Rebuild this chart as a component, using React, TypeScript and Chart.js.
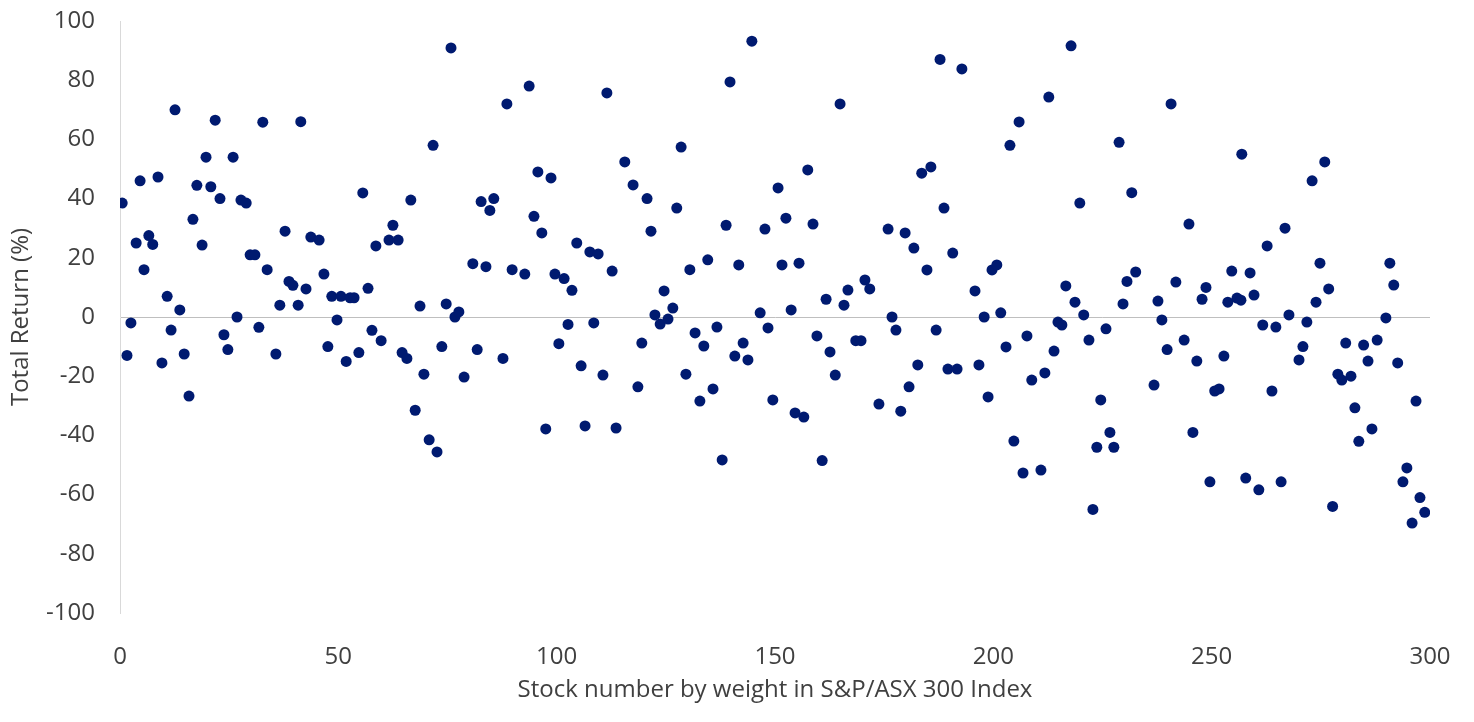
import React, { useEffect, useRef } from "react";
import { Chart, registerables } from "chart.js";
Chart.register(...registerables);

const stockNumbers = [
  0.5, 1.6, 2.5, 3.7, 4.6, 5.5, 6.6, 7.5, 8.7, 9.6, 10.8, 11.7, 12.6, 13.7, 14.7, 15.8, 16.7, 17.6, 18.8, 19.7,
  20.8, 21.8, 22.9, 23.8, 24.7, 25.9, 26.8, 27.7, 28.9, 29.8, 30.9, 31.8, 32.7, 33.7, 35.7, 36.6, 37.8, 38.7, 39.6, 40.8,
  41.4, 42.6, 43.7, 45.6, 46.7, 47.6, 48.5, 49.7, 50.6, 51.8, 52.7, 53.6, 54.7, 55.6, 56.8, 57.7, 58.6, 59.8, 61.6, 62.5,
  63.7, 64.6, 65.7, 66.6, 67.6, 68.7, 69.6, 70.8, 71.7, 72.6, 73.7, 74.7, 75.8, 76.7, 77.6, 78.8, 80.8, 81.8, 82.7, 83.8,
  84.7, 85.6, 87.7, 88.6, 89.8, 92.7, 93.7, 94.8, 95.7, 96.6, 97.5, 98.7, 99.6, 100.5, 101.7, 102.6, 103.5, 104.6, 105.6, 106.5,
  107.6, 108.5, 109.5, 110.6, 111.5, 112.7, 113.6, 115.6, 117.5, 118.6, 119.5, 120.7, 121.6, 122.5, 123.7, 124.6, 125.5, 126.6, 127.5, 128.5,
  129.6, 130.5, 131.7, 132.8, 133.7, 134.6, 135.8, 136.7, 137.9, 138.8, 139.7, 140.8, 141.7, 142.7, 143.8, 144.7, 146.6, 147.7, 148.4, 149.5,
  150.7, 151.6, 152.5, 153.7, 154.6, 155.5, 156.6, 157.5, 158.7, 159.6, 160.8, 161.7, 162.6, 163.8, 164.9, 165.8, 166.7, 168.5, 169.7, 170.6,
  171.7, 173.8, 175.9, 176.8, 177.7, 178.8, 179.8, 180.7, 181.8, 182.7, 183.6, 184.8, 185.7, 186.9, 187.8, 188.7, 189.6, 190.7, 191.7, 192.8,
  195.8, 196.7, 197.9, 198.8, 199.7, 200.8, 201.7, 202.9, 203.8, 204.7, 205.9, 206.8, 207.7, 208.8, 210.9, 211.8, 212.7, 213.9, 214.8, 215.7,
  216.6, 217.8, 218.7, 219.8, 220.7, 221.9, 222.8, 223.7, 224.6, 225.8, 226.7, 227.6, 228.8, 229.7, 230.6, 231.7, 232.6, 236.8, 237.7, 238.6,
  239.8, 240.7, 241.8, 243.7, 244.8, 245.7, 246.6, 247.8, 248.7, 249.6, 250.7, 251.7, 252.8, 253.7, 254.6, 255.8, 256.7, 256.9, 257.8, 258.8,
  259.7, 260.8, 261.7, 262.7, 263.8, 264.7, 265.9, 266.8, 267.7, 270.0, 270.9, 271.8, 273.0, 273.9, 274.8, 275.9, 276.8, 277.7, 278.9, 279.8,
  280.7, 281.9, 282.8, 283.7, 284.8, 285.8, 286.7, 287.9, 289.9, 290.8, 291.7, 292.6, 293.8, 294.7, 295.9, 296.8, 297.7, 298.8
];

const totalReturns = [
  38.5, -13, -2, 25, 46, 16, 27.5, 24.5, 47.3, -15.5, 7, -4.4, 70, 2.4, -12.5, -26.7, 33, 44.5, 24.3, 54,
  44, 66.5, 40, -6, -11, 54, 0, 39.5, 38.5, 21, 21, -3.5, 65.8, 16, -12.5, 4, 29, 12, 10.7, 4,
  66, 9.5, 27, 26, 14.5, -10, 7, -1, 7, -15, 6.5, 6.5, -12, 41.9, 9.7, -4.5, 24, -8, 26, 31,
  26, -12, -14, 39.5, -31.5, 3.7, -19.3, -41.5, 58, -45.6, -10, 4.4, 90.9, 0, 1.7, -20.3, 18, -11, 39, 17,
  36, 40, -14, 72, 16, 14.5, 78, 34, 49, 28.4, -37.8, 47, 14.5, -9, 13, -2.5, 9, 25, -16.5, -36.8,
  22, -2, 21.3, -19.6, 75.7, 15.5, -37.5, 52.4, 44.6, -23.6, -8.8, 40, 29, 0.7, -2.4, 8.8, -0.7, 3, 36.8, 57.4,
  -19.3, 16, -5.4, -28.4, -9.8, 19.3, -24.3, -3.4, -48.3, 31, 79.4, -13.2, 17.6, -8.8, -14.5, 93.2, 1.4, 29.7, -3.7, -28,
  43.6, 17.6, 33.4, 2.4, -32.4, 18.2, -33.8, 49.7, 31.4, -6.4, -48.5, 6, -11.8, -19.6, 72, 4, 9.1, -8, -8, 12.5,
  9.5, -29.4, 29.7, 0, -4.4, -31.8, 28.4, -23.6, 23.3, -16.2, 48.6, 15.9, 50.7, -4.4, 87, 36.8, -17.6, 21.6, -17.6, 83.8,
  8.8, -16.2, 0, -27, 15.9, 17.6, 1.4, -10.1, 58, -41.9, 65.9, -52.7, -6.4, -21.3, -51.7, -18.9, 74.3, -11.5, -1.7, -2.7,
  10.5, 91.6, 5, 38.5, 0.7, -7.8, -65, -44, -28, -4, -39, -44, 59, 4.4, 12, 42, 15.2, -23, 5.4, -1,
  -11, 72, 11.8, -7.8, 31.4, -39, -14.9, 6, 10, -55.7, -25, -24.3, -13.2, 5, 15.5, 6.4, 5.7, 55, -54.4, 14.9,
  7.4, -58.4, -2.7, 24, -25, -3.4, -55.7, 30, 0.7, -14.5, -10, -1.7, 46, 5, 18.2, 52.4, 9.5, -64, -19.3, -21.3,
  -8.8, -20, -30.7, -42, -9.5, -14.9, -37.8, -7.8, -0.3, 18.2, 10.8, -15.5, -55.7, -51, -69.6, -28.4, -61, -66
];

const xAxisTitle = "Stock number by weight in S&P/ASX 300 Index";
const yAxisTitle = "Total Return (%)";

const TEXT = "#404040";
const FONT = { family: "'Open Sans', sans-serif", size: 24 };

export default function App() {
  const ref = useRef<HTMLCanvasElement>(null);
  useEffect(() => {
    document.body.style.margin = "0";
    const chart = new Chart(ref.current as HTMLCanvasElement, {
      type: "scatter",
      data: {
        datasets: [
          {
            data: stockNumbers.map((x, i) => ({ x, y: totalReturns[i] })),
            backgroundColor: "#001A70",
            borderColor: "#001A70",
            borderWidth: 0,
            pointRadius: 5.5,
            pointHoverRadius: 5.5,
          },
        ],
      },
      options: {
        animation: false,
        responsive: false,
        layout: { padding: { top: 21, right: 44, left: 0, bottom: 0 } },
        plugins: { legend: { display: false }, tooltip: { enabled: false } },
        scales: {
          x: {
            type: "linear",
            min: 0,
            max: 300,
            ticks: { stepSize: 50, color: TEXT, font: FONT, padding: 22 },
            grid: { display: false },
            border: { display: false },
            title: { display: true, text: xAxisTitle, color: TEXT, font: FONT, padding: { top: 4, bottom: 17 } },
            afterFit: (s: any) => { s.height = 109; },
          },
          y: {
            min: -100,
            max: 100,
            ticks: { stepSize: 20, color: TEXT, font: FONT, padding: 25 },
            grid: {
              color: (ctx: any) => (ctx.tick && ctx.tick.value === 0 ? "#bfbfbf" : "rgba(0,0,0,0)"),
              drawTicks: false,
              lineWidth: 1,
            },
            border: { display: true, color: "#d9d9d9", width: 1 },
            title: { display: true, text: yAxisTitle, color: TEXT, font: FONT, padding: { top: 7, bottom: 4 } },
            afterFit: (s: any) => { s.width = 120; s.paddingTop = 0; s.paddingBottom = 0; },
          },
        },
      },
    });
    return () => chart.destroy();
  }, []);
  return (
    <div style={{ position: "absolute", left: 0, top: 0, width: 1474, height: 722, background: "#fff" }}>
      <canvas ref={ref} width={1474} height={722} style={{ width: 1474, height: 722 }} />
    </div>
  );
}
